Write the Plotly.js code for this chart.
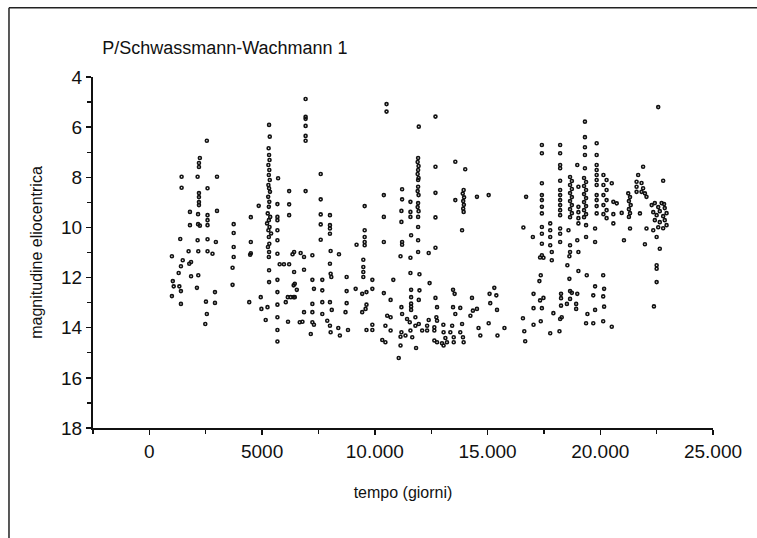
<!DOCTYPE html>
<html>
<head>
<meta charset="utf-8">
<script src="https://cdn.plot.ly/plotly-3.0.1.min.js"></script>
<style>html,body{margin:0;padding:0;background:#fff;}#chart{width:757px;height:538px;}</style>
</head>
<body>
<div id="chart"></div>
<script>
// tempo (giorni) and magnitudine eliocentrica
const giorni1 = [2550,2240,2200,2200,1430,2140,3000,1430,2580,2200,2200,2200,2200,3000,1800,2160,2580,2580,1800,2160,2240,2580,3740,3740,1370,2140,2580,2950,1740,2170,2580,2800,1000,3740,3740,4500,4500,4500,4850,6420,
5310,5340,5290,5310,5330,5280,5320,5300,5340,5280,5310,5350,5270,5320,5300,5250,5360,5300,5220,5330,5280,5400,5300,5320,5260,5310,5300,
5710,5680,5680,5680,5680,5680,5680,6200,6200,6200,
1480,1400,1850,1770,1300,1040,1080,1330,1400,1000,1400,1850,2170,2110,2510,2550,2480,2910,2910,3690,3690,4470,4430,4940,4970,5160,5240,5310,5310,5680,5680,5680,5680,5680,5680,5780,5970,6200,6420,6400,6140,6270,6400,6050,6150,6670,
6930,6930,6930,6930,6930,6930,6930,7600,7600,7600,7600,7600,8010,8010,8010,8010,8040,8410,6350,6710,6860,7230,
8010,6860,8040,8070,7230,7670,8750,6450,6540,6450,7300,7670,7230,7670,8010,6860,7230,7670,8090,6790,7230,7300,7890,8010,8040,7160,8450,8380,8810,8750,8750,8700];
const mag1 = [6.54,7.23,7.43,7.59,7.98,7.98,7.98,8.42,8.44,8.63,8.79,8.99,9.11,9.34,9.38,9.47,9.51,9.71,9.91,9.87,9.93,9.91,9.87,10.22,10.46,10.51,10.47,10.58,10.95,10.95,10.95,11.05,11.15,10.78,11.18,10.58,11.03,9.59,9.14,10.98,
5.91,6.38,6.84,7.11,7.31,7.51,7.71,7.91,8.11,8.31,8.44,8.58,8.78,8.98,9.18,9.44,9.58,9.71,9.84,9.98,10.11,10.24,10.38,10.65,10.78,10.98,11.18,
8.04,9.07,9.58,9.71,10.11,10.51,11.05,8.55,9.08,9.51,
11.31,11.55,11.38,11.45,11.82,12.14,12.35,12.35,12.54,12.74,13.05,11.95,11.91,12.41,12.96,13.45,13.85,12.58,13.01,11.61,12.29,11.09,12.98,12.78,13.25,13.69,13.18,11.71,12.18,12.09,12.58,13.08,13.58,14.09,14.55,11.47,11.47,11.47,11.78,12.31,12.78,12.78,12.78,12.98,13.76,13.78,
4.88,5.59,5.67,5.95,6.35,6.54,8.55,7.87,8.88,9.48,9.88,10.49,9.51,9.91,10.04,10.25,10.94,11.07,11.07,11.02,11.18,11.11,
11.45,11.69,11.85,11.98,12.09,12.09,11.98,12.25,12.49,12.78,12.45,12.51,13.05,12.98,12.98,13.38,13.38,13.45,13.29,13.76,13.78,13.88,13.72,13.92,14.18,14.25,14.31,14.01,14.09,12.54,13.02,13.38];

const giorni2 = [9550,9550,9550,9550,9550,9190,10400,10400,10400,10520,10520,11210,11210,11180,11180,11210,11210,11950,
11920,11900,11940,11920,11900,11940,11920,11920,11900,11940,11920,11900,11940,11920,11920,11920,11920,
11580,11580,11580,11610,12690,12690,12690,12690,12690,12390,13570,14010,13570,
13940,13900,13960,13920,13950,13920,13940,13870,14530,15050,
9490,9490,9490,9490,9890,10820,11140,11580,11580,11980,12430,
9150,9440,9630,9890,9440,9590,9630,9630,9890,9890,10400,10330,10470,10700,10550,10700,10470,10700,11180,11210,11180,11140,11140,11060,11360,11430,11550,11580,11610,11610,11610,11610,11610,11980,11950,11800,11950,11800,11660,11830,12100,12320,12320,12390,12690,12760,12730,12760,12640,12640,12640,12760,12980,13050,13040,13050,13130,13200,13470,13540,13470,13570,13430,13350,13500,13500,13790,13870,13790,13910,13940,14310,14350,14530,14240,14600,14680,15090,15120,15050,15300,15390,15420,15440,15750];
const mag2 = [9.15,10.11,10.38,10.58,10.71,10.69,8.71,9.58,10.58,5.08,5.38,8.48,8.88,9.34,9.78,10.58,10.69,5.98,
7.23,7.39,7.55,7.71,7.87,8.03,8.11,8.38,8.55,8.71,9.03,9.19,9.35,9.58,9.98,10.51,10.98,
8.98,9.38,9.58,10.31,5.58,7.58,8.62,9.60,10.81,11.02,7.38,7.68,8.91,
8.51,8.65,8.80,8.95,9.10,9.25,9.38,10.11,8.78,8.71,
11.29,11.58,11.78,11.98,12.09,12.09,11.15,11.21,11.82,11.87,12.22,
12.45,12.65,12.58,12.45,13.38,13.25,13.08,14.09,14.09,13.88,12.62,14.49,14.58,12.89,13.52,13.58,13.92,14.11,13.18,13.45,14.18,14.36,14.71,15.21,14.31,13.65,13.78,14.11,13.04,13.16,13.29,12.49,12.78,12.51,12.89,13.58,13.85,13.92,14.38,14.81,14.11,14.11,13.92,13.69,12.81,13.18,13.58,13.72,13.98,14.11,14.51,14.58,14.62,14.71,13.88,14.18,14.41,14.58,12.49,12.65,13.18,13.45,13.92,14.18,14.38,14.58,13.21,13.85,14.18,14.38,14.58,12.81,13.32,13.25,13.52,14.01,14.31,12.65,13.02,13.82,12.41,12.71,13.29,14.31,14.01];

const giorni3 = [22570,22790,21900,21680,21610,21610,21610,21830,21900,21980,22050,21830,21760,22050,21980,
22280,22420,22570,22720,22860,22350,22500,22640,22790,22940,22420,22640,22860,22570,22790,22940,22350,
22500,22640,22830,
21240,21320,21270,21350,21270,21320,21270,21320,20950,20580,20730,20580,20580,20510,
20140,20280,20140,20280,20140,20280,20140,20280,20140,20280,
19840,19840,19840,19840,19840,19840,19840,19840,19840,19840,19840,19770,19770,
19320,19320,19320,19320,19320,
19280,19370,19280,19370,19280,19370,19280,19370,19280,19370,19280,
19370,19370,18980,19030,19030,19030,19030,19030,18980,19030,
18660,18740,18660,18740,18660,18740,18660,18740,18660,18740,18660,
18590,18660,18660,
18220,18220,18220,18220,18220,18220,18220,18220,18220,18220,18220,18220,18220,18220,
17780,17780,17780,17780,
17410,17410,17410,17410,17410,17410,17410,17410,17410,17410,17410,
17010,16710,16590,
17330,17480,17850,17850,18630,18540,19030,19400,20130,17360,17300,18630,19770,20170,17040,17480,17330,18260,18260,18660,18740,18980,18660,19690,20130,17040,17410,17920,18260,18520,18930,18930,18290,18220,19770,20170,19430,16570,17040,17360,16630,16670,17780,18190,19370,19690,20130,20510,22500,22500,22500,22380,21050];
const mag3 = [5.20,8.14,7.58,7.91,8.18,8.38,8.58,8.23,8.44,8.64,8.78,8.58,9.44,10.04,10.67,
9.11,9.03,9.19,9.03,9.23,9.39,9.51,9.35,9.55,9.43,9.71,9.79,9.71,9.99,10.03,9.91,10.11,
10.38,10.85,9.07,
8.64,8.79,8.95,9.11,9.27,9.43,9.58,10.04,9.42,8.98,9.04,9.47,9.84,8.24,
7.91,8.11,8.31,8.51,8.71,8.91,9.11,9.31,9.47,9.63,
6.64,7.11,7.51,7.71,7.91,8.11,8.31,8.71,8.91,9.15,9.44,10.04,10.58,
5.78,6.40,6.80,7.11,7.64,
8.03,8.19,8.35,8.51,8.67,8.83,8.99,9.15,9.31,9.47,9.59,
9.91,10.38,7.51,8.38,9.18,9.39,9.63,9.84,10.51,10.98,
7.99,8.15,8.31,8.47,8.63,8.79,8.95,9.11,9.27,9.43,9.59,
10.11,10.71,10.98,
6.71,7.04,7.51,7.64,8.14,8.51,8.71,8.91,9.11,9.31,9.51,10.04,10.25,10.58,
9.84,10.11,10.38,10.71,
6.71,7.04,8.24,8.71,8.91,9.18,9.44,9.98,10.25,10.65,11.11,
10.38,8.78,10.00,
11.20,11.21,11.31,10.98,11.15,11.51,11.74,11.91,11.91,11.91,12.14,12.05,12.35,12.45,12.65,12.81,12.91,12.65,12.82,12.54,12.61,12.65,12.85,12.71,12.75,13.22,13.22,13.42,13.12,13.05,13.05,13.25,13.58,13.65,13.29,13.16,13.45,13.62,13.88,13.74,14.14,14.54,14.22,14.14,13.82,13.82,13.74,13.96,11.51,11.65,12.18,13.15,10.51];

const xTickVals = [0, 5000, 10000, 15000, 20000, 25000];
const xTickText = ['0', '5000', '10.000', '15.000', '20.000', '25.000'];
const yTickVals = [4, 6, 8, 10, 12, 14, 16, 18];

const markerStyle = {symbol: 'circle-open', size: 3, color: '#111', line: {width: 1.6, color: '#111'}};
function tr(x, y) {
  return {type: 'scatter', mode: 'markers', x: x, y: y, marker: markerStyle, hoverinfo: 'x+y', showlegend: false};
}
const data = [tr(giorni1, mag1), tr(giorni2, mag2), tr(giorni3, mag3)];

const FONT = 'Liberation Sans, Arial, Helvetica, sans-serif';
const layout = {
  width: 757, height: 538,
  margin: {l: 93, r: 44, t: 77, b: 110, pad: 0},
  paper_bgcolor: '#fff', plot_bgcolor: '#fff',
  font: {family: FONT, color: '#111', size: 18},
  title: {text: 'P/Schwassmann-Wachmann 1', font: {family: FONT, size: 18, color: '#111'},
          xref: 'container', x: 0.135, xanchor: 'left', yref: 'container', y: 0.912, yanchor: 'middle'},
  xaxis: {
    range: [-2500, 25000], showgrid: false, zeroline: false,
    showline: true, linecolor: '#111', linewidth: 2,
    tickmode: 'array', tickvals: xTickVals, ticktext: xTickText,
    ticks: 'outside', ticklen: 5, tickwidth: 1.5, tickcolor: '#111',
    tickfont: {family: FONT, size: 19, color: '#111'},
    minor: {tickmode: 'linear', tick0: 0, dtick: 2500, ticks: 'outside', ticklen: 4, tickwidth: 1.2, tickcolor: '#111'},
    title: {text: 'tempo (giorni)', font: {family: FONT, size: 16, color: '#111'}, standoff: 26}
  },
  yaxis: {
    range: [18, 4], showgrid: false, zeroline: false,
    showline: true, linecolor: '#111', linewidth: 2,
    tickmode: 'array', tickvals: yTickVals,
    ticks: 'outside', ticklen: 5, tickwidth: 1.5, tickcolor: '#111',
    tickfont: {family: FONT, size: 19, color: '#111'},
    minor: {tickmode: 'linear', tick0: 4, dtick: 1, ticks: 'outside', ticklen: 4, tickwidth: 1.2, tickcolor: '#111'},
    title: {text: 'magnitudine eliocentrica', font: {family: FONT, size: 16, color: '#111'}, standoff: 14}
  },
  shapes: [
    {type: 'line', xref: 'paper', yref: 'paper', x0: -0.1355, x1: -0.1355, y0: 1.197, y1: -0.34, line: {color: '#222', width: 1.5}},
    {type: 'line', xref: 'paper', yref: 'paper', x0: -0.1355, x1: 1.08, y0: 1.197, y1: 1.197, line: {color: '#222', width: 1.5}}
  ]
};
Plotly.newPlot('chart', data, layout, {staticPlot: true, displayModeBar: false});
</script>
</body>
</html>
